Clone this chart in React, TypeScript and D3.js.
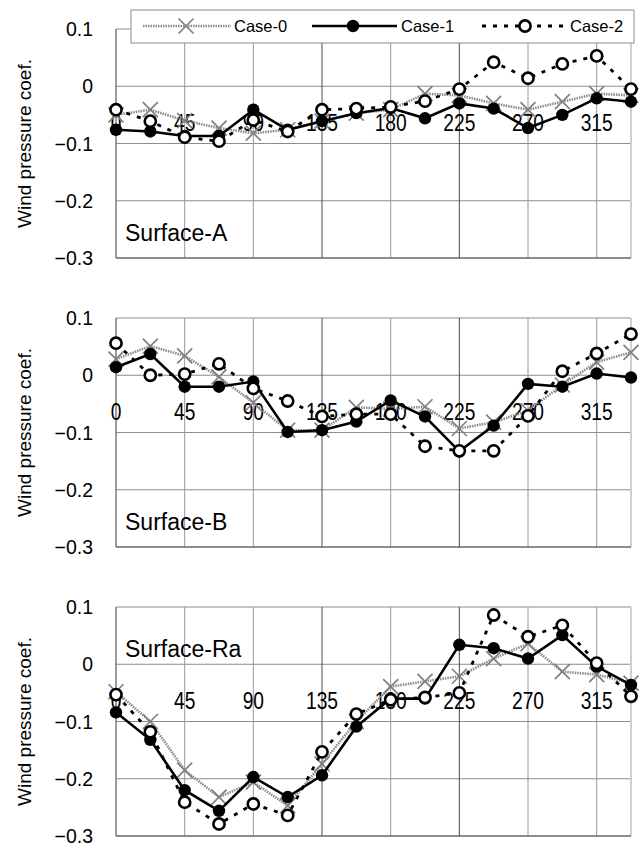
import * as d3 from "d3";

const directions = [0, 22.5, 45, 67.5, 90, 112.5, 135, 157.5, 180, 202.5, 225, 247.5, 270, 292.5, 315, 337.5];
const xTicks = [0, 45, 90, 135, 180, 225, 270, 315];
const yTicks = [0.1, 0, -0.1, -0.2, -0.3];
const caseNames = ["Case-0", "Case-1", "Case-2"];

const surfaceA0 = [-0.05, -0.041, -0.06, -0.073, -0.082, -0.076, -0.061, -0.047, -0.041, -0.013, -0.016, -0.03, -0.041, -0.027, -0.013, -0.016];
const surfaceA1 = [-0.076, -0.079, -0.087, -0.087, -0.041, -0.076, -0.061, -0.047, -0.038, -0.056, -0.03, -0.039, -0.073, -0.05, -0.021, -0.027];
const surfaceA2 = [-0.041, -0.061, -0.089, -0.096, -0.059, -0.079, -0.041, -0.039, -0.036, -0.026, -0.005, 0.042, 0.014, 0.039, 0.053, -0.005];

const surfaceB0 = [0.028, 0.051, 0.034, -0.003, -0.048, -0.096, -0.096, -0.056, -0.059, -0.055, -0.093, -0.082, -0.062, -0.017, 0.023, 0.04];
const surfaceB1 = [0.014, 0.037, -0.02, -0.02, -0.011, -0.099, -0.096, -0.081, -0.044, -0.072, -0.133, -0.088, -0.015, -0.02, 0.003, -0.004];
const surfaceB2 = [0.056, 0.0, 0.002, 0.02, -0.023, -0.045, -0.072, -0.068, -0.068, -0.124, -0.132, -0.132, -0.071, 0.007, 0.038, 0.072];

const surfaceR0 = [-0.048, -0.1, -0.185, -0.232, -0.206, -0.247, -0.174, -0.1, -0.039, -0.03, -0.021, 0.01, 0.036, -0.013, -0.018, -0.033];
const surfaceR1 = [-0.084, -0.132, -0.22, -0.256, -0.197, -0.232, -0.194, -0.109, -0.06, -0.06, 0.034, 0.028, 0.01, 0.051, -0.004, -0.036];
const surfaceR2 = [-0.053, -0.118, -0.241, -0.279, -0.244, -0.264, -0.153, -0.087, -0.062, -0.058, -0.05, 0.086, 0.048, 0.068, 0.002, -0.056];

const panels = [
  { label: "Surface-A", labelTop: false, series: [surfaceA0, surfaceA1, surfaceA2] },
  { label: "Surface-B", labelTop: false, series: [surfaceB0, surfaceB1, surfaceB2] },
  { label: "Surface-Ra", labelTop: true, series: [surfaceR0, surfaceR1, surfaceR2] },
];

const W = 640;
const H = 848;
const LEFT = 116;
const RIGHT = 631;
const PANEL_TOP = 29;
const PANEL_H = 229;
const PANEL_STEP = 289;

const SANS = "'Liberation Sans', Arial, sans-serif";

const x = d3.scaleLinear().domain([0, 337.5]).range([LEFT, RIGHT]);

const fmt = (v: number) => (v < 0 ? "\u2212" + Math.abs(v).toFixed(1) : v === 0 ? "0" : v.toFixed(1));

function Cross({ cx, cy }: { cx: number; cy: number }) {
  const s = 7.5;
  return (
    <path
      d={`M${cx - s},${cy - s}L${cx + s},${cy + s}M${cx - s},${cy + s}L${cx + s},${cy - s}`}
      stroke="#808080"
      strokeWidth={1.7}
      fill="none"
    />
  );
}

function Panel({ index }: { index: number }) {
  const p = panels[index];
  const top = PANEL_TOP + index * PANEL_STEP;
  const y = d3.scaleLinear().domain([-0.3, 0.1]).range([top + PANEL_H, top]);
  const line = d3
    .line<number>()
    .x((_, i) => x(directions[i]))
    .y((d) => y(d));

  return (
    <g>
      {/* horizontal grid */}
      {yTicks.map((t) => (
        <line key={"h" + t} x1={LEFT} x2={RIGHT} y1={y(t)} y2={y(t)} stroke="#8c8c8c" strokeWidth={1} />
      ))}
      {/* vertical grid */}
      {xTicks.map((t) => (
        <line
          key={"v" + t}
          x1={x(t)}
          x2={x(t)}
          y1={top}
          y2={top + PANEL_H}
          stroke={t === 135 || t === 225 ? "#4a4a4a" : "#9a9a9a"}
          strokeWidth={1}
        />
      ))}
      <line x1={RIGHT} x2={RIGHT} y1={top} y2={top + PANEL_H} stroke="#cfcfcf" strokeWidth={2} />
      <line x1={LEFT} x2={LEFT} y1={top} y2={top + PANEL_H} stroke="#6a6a6a" strokeWidth={1} />
      <line x1={LEFT} x2={RIGHT} y1={top + PANEL_H} y2={top + PANEL_H} stroke="#555" strokeWidth={1.2} />

      {/* y tick labels */}
      {yTicks.map((t) => (
        <text key={"yl" + t} x={93} y={y(t) + 7} textAnchor="end" fontFamily={SANS} fontSize={19.5} fill="#000">
          {fmt(t)}
        </text>
      ))}
      {/* x tick labels along the zero line, condensed */}
      {xTicks.map((t) => (
        <text
          key={"xl" + t}
          transform={`translate(${x(t)},${y(0) + 45}) scale(0.8,1)`}
          textAnchor="middle"
          fontFamily={SANS}
          fontSize={24}
          fill="#000"
        >
          {t}
        </text>
      ))}

      <text
        transform={`translate(31,${top + PANEL_H / 2}) rotate(-90)`}
        textAnchor="middle"
        fontFamily={SANS}
        fontSize={19}
        fill="#000"
      >
        Wind pressure coef.
      </text>

      <text x={125} y={p.labelTop ? top + 50 : top + 212} fontFamily={SANS} fontSize={23} fill="#000">
        {p.label}
      </text>

      {/* Case-0 */}
      <path d={line(p.series[0]) || ""} fill="none" stroke="#8a8a8a" strokeWidth={2.6} strokeDasharray="1.5 1" />
      {p.series[0].map((v, i) => (
        <Cross key={"c0" + i} cx={x(directions[i])} cy={y(v)} />
      ))}
      {/* Case-1 */}
      <path d={line(p.series[1]) || ""} fill="none" stroke="#000" strokeWidth={2.6} />
      {p.series[1].map((v, i) => (
        <circle key={"c1" + i} cx={x(directions[i])} cy={y(v)} r={6.2} fill="#000" />
      ))}
      {/* Case-2 */}
      <path d={line(p.series[2]) || ""} fill="none" stroke="#000" strokeWidth={2.8} strokeDasharray="4 7" />
      {p.series[2].map((v, i) => (
        <circle key={"c2" + i} cx={x(directions[i])} cy={y(v)} r={5.6} fill="#fff" stroke="#000" strokeWidth={2.6} />
      ))}
    </g>
  );
}

function Legend() {
  const ly = 26;
  const items = [
    { x1: 143, x2: 231, mx: 186, tx: 234 },
    { x1: 312, x2: 397, mx: 353, tx: 401 },
    { x1: 482, x2: 567, mx: 525, tx: 570 },
  ];
  return (
    <g>
      <rect x={131} y={10} width={503} height={33} fill="#fff" stroke="#8c8c8c" strokeWidth={1} />
      <line x1={items[0].x1} x2={items[0].x2} y1={ly} y2={ly} stroke="#8a8a8a" strokeWidth={2.6} strokeDasharray="1.5 1" />
      <Cross cx={items[0].mx} cy={ly} />
      <line x1={items[1].x1} x2={items[1].x2} y1={ly} y2={ly} stroke="#000" strokeWidth={2.6} />
      <circle cx={items[1].mx} cy={ly} r={6.2} fill="#000" />
      <line x1={items[2].x1} x2={items[2].x2} y1={ly} y2={ly} stroke="#000" strokeWidth={2.8} strokeDasharray="4 7" />
      <circle cx={items[2].mx} cy={ly} r={5.6} fill="#fff" stroke="#000" strokeWidth={2.6} />
      {caseNames.map((n, i) => (
        <text key={n} x={items[i].tx} y={ly + 6} fontFamily={SANS} fontSize={16.5} fill="#000">
          {n}
        </text>
      ))}
    </g>
  );
}

export default function App() {
  return (
    <svg
      width={W}
      height={H}
      viewBox={`0 0 ${W} ${H}`}
      style={{ position: "absolute", left: 0, top: 0, background: "#fff" }}
    >
      <rect width={W} height={H} fill="#fff" />
      {panels.map((_, i) => (
        <Panel key={i} index={i} />
      ))}
      <Legend />
    </svg>
  );
}
